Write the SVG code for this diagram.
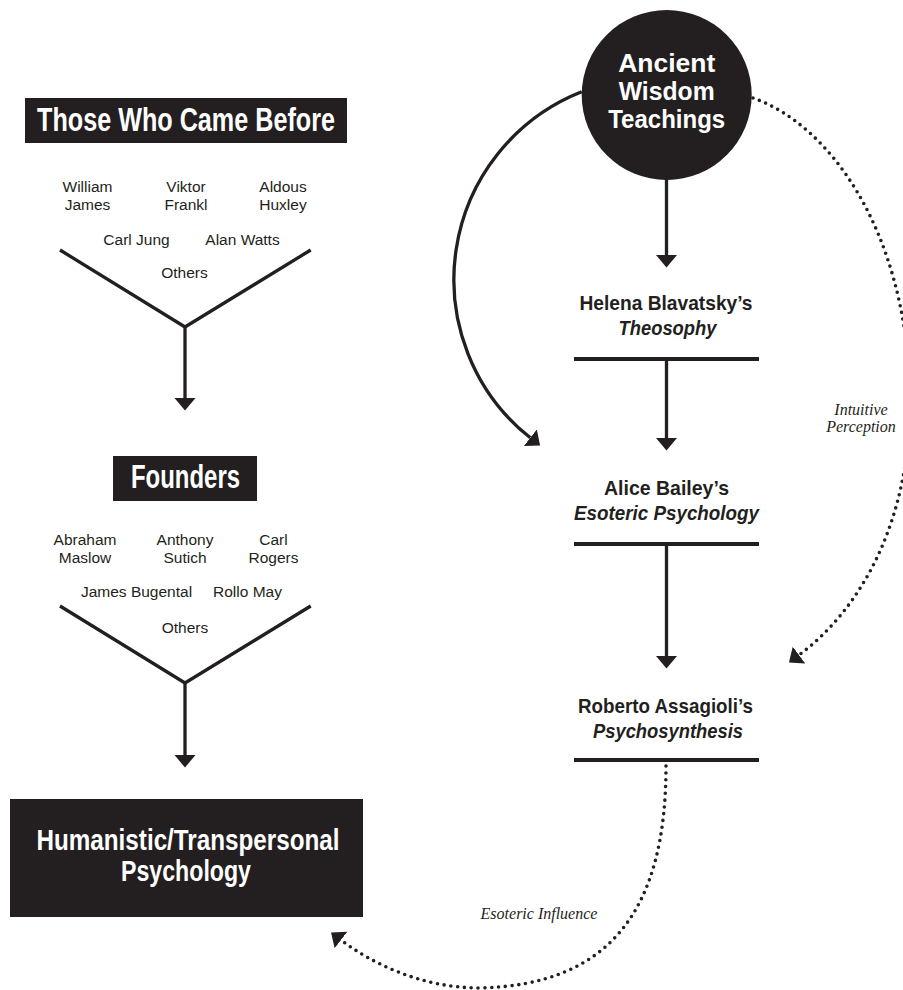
<svg xmlns="http://www.w3.org/2000/svg" width="903" height="990" viewBox="0 0 903 990">
  <style>
    .ink { fill: #231f20; }
    .line { fill: none; stroke: #231f20; stroke-width: 3.3; }
    .rule { fill: none; stroke: #231f20; stroke-width: 3.8; }
    .dots { fill: none; stroke: #231f20; stroke-width: 3.6; stroke-linecap: round; stroke-dasharray: 0 6.8; }
    .head { font-family: "Liberation Sans", Arial, sans-serif; font-weight: bold; fill: #ffffff; text-anchor: middle; }
    .label { font-family: "Liberation Sans", Arial, sans-serif; font-weight: bold; fill: #231f20; text-anchor: middle; font-size: 21px; }
    .name { font-family: "Liberation Sans", Arial, sans-serif; fill: #231f20; text-anchor: middle; font-size: 15.5px; }
    .note { font-family: "Liberation Serif", "Times New Roman", serif; font-style: italic; fill: #231f20; text-anchor: middle; font-size: 16px; }
  </style>
  <defs>
    <marker id="head" markerUnits="userSpaceOnUse" markerWidth="14" markerHeight="24" viewBox="0 -12 14 24" refX="0" refY="0" orient="auto">
      <path d="M0,-10.5 L12.5,0 L0,10.5 z" fill="#231f20"/>
    </marker>
  </defs>

  <rect width="903" height="990" fill="#ffffff"/>

  <!-- left column: predecessors -->
  <g id="before">
    <rect class="ink" x="25" y="98" width="322" height="45"/>
    <text class="head" x="186" y="131" font-size="33" textLength="298" lengthAdjust="spacingAndGlyphs">Those Who Came Before</text>
  </g>
  <g id="before-names">
    <text class="name" x="87.5" y="192">William</text>
    <text class="name" x="87.5" y="210">James</text>
    <text class="name" x="186" y="192">Viktor</text>
    <text class="name" x="186" y="210">Frankl</text>
    <text class="name" x="283" y="192">Aldous</text>
    <text class="name" x="283" y="210">Huxley</text>
    <text class="name" x="136.5" y="245">Carl Jung</text>
    <text class="name" x="242.5" y="245">Alan Watts</text>
    <text class="name" x="184.5" y="278">Others</text>
  </g>

  <g id="founders">
    <rect class="ink" x="113" y="456" width="144" height="45"/>
    <text class="head" x="185.5" y="488" font-size="33" textLength="109" lengthAdjust="spacingAndGlyphs">Founders</text>
  </g>
  <g id="founder-names">
    <text class="name" x="85" y="545">Abraham</text>
    <text class="name" x="85" y="563">Maslow</text>
    <text class="name" x="185" y="545">Anthony</text>
    <text class="name" x="185" y="563">Sutich</text>
    <text class="name" x="273.5" y="545">Carl</text>
    <text class="name" x="273.5" y="563">Rogers</text>
    <text class="name" x="136.5" y="597">James Bugental</text>
    <text class="name" x="247.5" y="597">Rollo May</text>
    <text class="name" x="185" y="633">Others</text>
  </g>

  <g id="humanistic">
    <rect class="ink" x="10" y="799" width="353" height="118"/>
    <text class="head" x="188" y="850" font-size="29" textLength="303" lengthAdjust="spacingAndGlyphs">Humanistic/Transpersonal</text>
    <text class="head" x="186" y="881" font-size="29" textLength="130" lengthAdjust="spacingAndGlyphs">Psychology</text>
  </g>

  <!-- right column: esoteric lineage -->
  <g id="ancient">
    <circle class="ink" cx="666.7" cy="95" r="85"/>
    <text class="head" x="666.7" y="72" font-size="26" textLength="97" lengthAdjust="spacingAndGlyphs">Ancient</text>
    <text class="head" x="666.7" y="100" font-size="26" textLength="96" lengthAdjust="spacingAndGlyphs">Wisdom</text>
    <text class="head" x="666.7" y="128" font-size="26" textLength="117" lengthAdjust="spacingAndGlyphs">Teachings</text>
  </g>

  <g id="blavatsky">
    <text class="label" x="666" y="310" textLength="173" lengthAdjust="spacingAndGlyphs">Helena Blavatsky’s</text>
    <text class="label" x="667.5" y="335" font-style="italic" textLength="98" lengthAdjust="spacingAndGlyphs">Theosophy</text>
    <line class="rule" x1="574" y1="359" x2="759" y2="359"/>
  </g>

  <g id="bailey">
    <text class="label" x="666.5" y="495" textLength="125" lengthAdjust="spacingAndGlyphs">Alice Bailey’s</text>
    <text class="label" x="666.5" y="520" font-style="italic" textLength="185" lengthAdjust="spacingAndGlyphs">Esoteric Psychology</text>
    <line class="rule" x1="574" y1="544" x2="759" y2="544"/>
  </g>

  <g id="assagioli">
    <text class="label" x="665.5" y="713" textLength="175" lengthAdjust="spacingAndGlyphs">Roberto Assagioli’s</text>
    <text class="label" x="668" y="738" font-style="italic" textLength="150" lengthAdjust="spacingAndGlyphs">Psychosynthesis</text>
    <line class="rule" x1="574" y1="760" x2="759" y2="760"/>
  </g>

  <g id="notes">
    <text class="note" x="861" y="415">Intuitive</text>
    <text class="note" x="861" y="432">Perception</text>
    <text class="note" x="539" y="919">Esoteric Influence</text>
  </g>

  <!-- connectors -->
  <g id="connectors">
    <!-- funnel into Founders -->
    <polyline class="line" points="60,250 185,327 310.7,250"/>
    <line class="line" x1="185" y1="327" x2="185" y2="398" marker-end="url(#head)"/>
    <!-- funnel into Humanistic/Transpersonal -->
    <polyline class="line" points="60,606 185,683 310.7,606"/>
    <line class="line" x1="185" y1="683" x2="185" y2="755" marker-end="url(#head)"/>

    <!-- lineage chain -->
    <line class="line" x1="666.5" y1="179" x2="666.5" y2="255" marker-end="url(#head)"/>
    <line class="line" x1="666.5" y1="360" x2="666.5" y2="438" marker-end="url(#head)"/>
    <line class="line" x1="666.5" y1="545" x2="666.5" y2="656" marker-end="url(#head)"/>

    <!-- direct arc from the Ancient Wisdom to Bailey -->
    <path class="line" d="M581.7,91.7 A202,202 0 0 0 530.3,437.8" marker-end="url(#head)"/>

    <!-- Intuitive Perception -->
    <path class="dots" d="M753,98 C830,125 905,230 910,390 C913,520 860,610 799,655" marker-end="url(#head)"/>

    <!-- Esoteric Influence -->
    <path class="dots" d="M666,766 C666,910 610,985 480,988 C420,988 370,962 341,940" marker-end="url(#head)"/>
  </g>
</svg>
